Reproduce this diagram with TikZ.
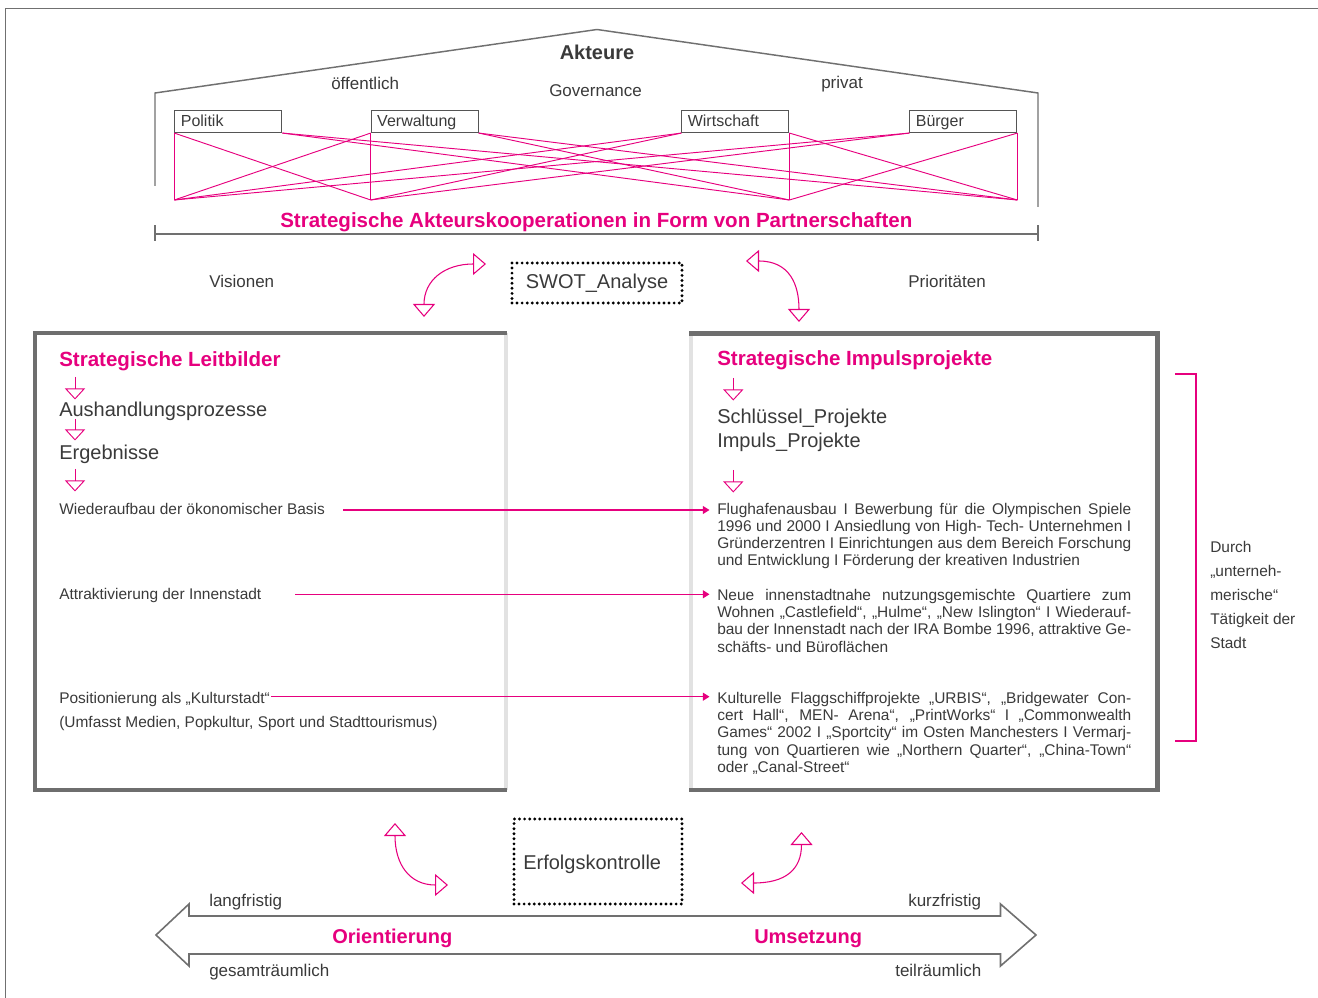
\documentclass[tikz,border=0pt]{standalone}
\usepackage{fontspec}
\setmainfont{Liberation Sans}
\usetikzlibrary{arrows.meta}
\definecolor{mag}{RGB}{230,0,126}
\definecolor{ink}{HTML}{3A3A3A}
\definecolor{framegray}{HTML}{707070}
\definecolor{boxdark}{HTML}{6E6E6E}
\definecolor{boxlight}{HTML}{E2E2E2}
\definecolor{actorline}{HTML}{555555}
% one justified line of a paragraph
\newcommand\justline[1]{\makebox[\linewidth][s]{#1}\par}

\begin{document}
\begin{tikzpicture}[x=0.75pt,y=-0.75pt,
  txt/.style={anchor=base west, inner sep=0pt, text=ink},
  small/.style={txt, font=\fontsize{11.6}{13}\selectfont},
  mid/.style={txt, font=\fontsize{12.75}{15}\selectfont},
  big/.style={txt, font=\fontsize{15}{18}\selectfont},
  title/.style={txt, text=mag, font=\fontsize{15.4}{18}\selectfont\bfseries},
  actor/.style={draw=actorline, line width=0.8pt, anchor=north west,
    inner xsep=4.5pt, inner ysep=0pt, text width=71.25pt, minimum height=16.5pt,
    text height=8pt, text depth=0pt,
    align=left, text=ink, font=\fontsize{12}{14}\selectfont},
  web/.style={mag, line width=0.7pt},
  house/.style={framegray, line width=1.1pt},
  dotbox/.style={draw=black, line width=2.4pt, dash pattern=on 0pt off 3.8pt,
    line cap=round, inner sep=0pt, text=ink, font=\fontsize{15}{18}\selectfont},
  link/.style={mag, line width=0.9pt, -{Triangle[length=5pt,width=6pt]}},
  stepdown/.style={mag, line width=0.7pt, -{Triangle[open,length=8.25pt,width=15pt]}},
  swing/.style={mag, line width=0.8pt,
    {Triangle[open,length=9.75pt,width=16.5pt]}-{Triangle[open,length=9.75pt,width=16.5pt]}},
  frameline/.style={framegray, line width=0.8pt}
]
\useasboundingbox (0,0) rectangle (1318,998);

% page frame
\draw[frameline] (5.5,998) -- (5.5,8.5) -- (1318,8.5);

% ---------- actors ----------
\draw[house] (155,186) -- (155,93) -- (597,29.5) -- (1038,93) -- (1038,207);
\node[txt, anchor=base, font=\fontsize{15}{18}\selectfont\bfseries] (akteure) at (597,60) {Akteure};
\node[mid] (oeff) at (331,90) {öffentlich};
\node[mid] (gov) at (549,97) {Governance};
\node[mid] (priv) at (821,89) {privat};

\node[actor] (pol) at (174.3,110) {Politik};
\node[actor] (ver) at (370.7,110) {Verwaltung};
\node[actor] (wir) at (681.3,110) {Wirtschaft};
\node[actor] (bur) at (909.3,110) {Bürger};

\coordinate (base) at (0,200);
\coordinate (pb) at (pol.south west |- base);
\coordinate (vb) at (ver.south west |- base);
\coordinate (wb) at (wir.south east |- base);
\coordinate (bb) at (bur.south east |- base);

% cooperation web
\draw[web] (pol.south west) -- (pb);
\draw[web] (ver.south west) -- (vb);
\draw[web] (wir.south east) -- (wb);
\draw[web] (bur.south east) -- (bb);
\draw[web] (pol.south west) -- (vb);
\draw[web] (ver.south west) -- (pb);
\draw[web] (wir.south east) -- (bb);
\draw[web] (bur.south east) -- (wb);
\draw[web] (pol.south east) -- (wb);
\draw[web] (pol.south east) -- (bb);
\draw[web] (ver.south east) -- (wb);
\draw[web] (ver.south east) -- (bb);
\draw[web] (pb) -- (wir.south west);
\draw[web] (pb) -- (bur.south west);
\draw[web] (vb) -- (wir.south west);
\draw[web] (vb) -- (bur.south west);

\node[title] (koop) at (280,228) {Strategische Akteurskooperationen in Form von Partnerschaften};
\draw[house] (155,234) -- (1038,234);
\draw[house] (155,225.5) -- (155,241.5);
\draw[house] (1038,225.5) -- (1038,241.5);

% ---------- analysis ----------
\node[mid] (vis) at (209,288) {Visionen};
\node[mid] (prio) at (908,288) {Prioritäten};
\node[dotbox, minimum width=127.5pt, minimum height=30pt] (swot) at (597,283) {SWOT\_Analyse};
\draw[swing] (424,317) .. controls (424,280) and (445,264) .. (486,264);
\draw[swing] (746,261) .. controls (790,261) and (799,285) .. (799,322);

% ---------- main boxes ----------
\draw[boxlight, line width=3pt] (505.5,333) -- (505.5,790);
\draw[boxdark, line width=3.2pt] (507,333) -- (35.3,333) -- (35.3,790) -- (507,790);
\draw[boxlight, line width=3pt] (691,333.5) -- (691,790);
\draw[boxdark, line width=3.2pt] (689,333.5) -- (1157.5,333.5) -- (1157.5,790) -- (689,790);

% left box
\node[title] (leit) at (59,367) {Strategische Leitbilder};
\coordinate (la1) at (75,377);   \coordinate (la2) at (75,399.5);
\node[big] (aush) at (59,417) {Aushandlungsprozesse};
\coordinate (lb1) at (75,419);   \coordinate (lb2) at (75,440.5);
\node[big] (erg) at (59,460) {Ergebnisse};
\coordinate (lc1) at (75,469);   \coordinate (lc2) at (75,491.5);
\draw[stepdown] (la1) -- (la2);
\draw[stepdown] (lb1) -- (lb2);
\draw[stepdown] (lc1) -- (lc2);

\node[small] (ziel1) at (59,514) {Wiederaufbau der ökonomischer Basis};
\node[small] (ziel2) at (59,599) {Attraktivierung der Innenstadt};
\node[small] (ziel3) at (59,703) {Positionierung als „Kulturstadt“};
\node[small] (ziel3b) at (59,727) {(Umfasst Medien, Popkultur, Sport und Stadttourismus)};

% right box
\node[title] (impuls) at (717,366) {Strategische Impulsprojekte};
\coordinate (ra1) at (733.3,378);  \coordinate (ra2) at (733.3,400.5);
\node[big] (schl) at (717,423.5) {Schlüssel\_Projekte};
\node[big] (imp) at (717,447.5) {Impuls\_Projekte};
\coordinate (rb1) at (733.3,470);  \coordinate (rb2) at (733.3,492.5);
\draw[stepdown] (ra1) -- (ra2);
\draw[stepdown] (rb1) -- (rb2);

\node[small] (proj1) at (717,514) {\parbox[t]{310.5pt}{%
  \justline{Flughafenausbau I Bewerbung für die Olympischen Spiele}
  \justline{1996 und 2000 I Ansiedlung von High- Tech- Unternehmen I}
  \justline{Gründerzentren I Einrichtungen aus dem Bereich Forschung}
  und Entwicklung I Förderung der kreativen Industrien}};
\node[small] (proj2) at (717,600) {\parbox[t]{310.5pt}{%
  \justline{Neue innenstadtnahe nutzungsgemischte Quartiere zum}
  \justline{Wohnen „Castlefield“, „Hulme“, „New Islington“ I Wiederauf-}
  \justline{bau der Innenstadt nach der IRA Bombe 1996, attraktive Ge-}
  schäfts- und Büroflächen}};
\node[small] (proj3) at (717,703) {\parbox[t]{310.5pt}{%
  \justline{Kulturelle Flaggschiffprojekte „URBIS“, „Bridgewater Con-}
  \justline{cert Hall“, MEN- Arena“, „PrintWorks“ I „Commonwealth}
  \justline{Games“ 2002 I „Sportcity“ im Osten Manchesters I Vermarj-}
  \justline{tung von Quartieren wie „Northern Quarter“, „China-Town“}
  oder „Canal-Street“}};

% goal -> project links
\coordinate (g1) at (343,510);  \coordinate (q1) at (709.5,510);
\coordinate (g2) at (295,594.3);  \coordinate (q2) at (709.5,594.3);
\coordinate (g3) at (271,696.7);  \coordinate (q3) at (709.5,696.7);
\draw[link] (g1) -- (q1);
\draw[link] (g2) -- (q2);
\draw[link] (g3) -- (q3);

% bracket on the right
\draw[mag, line width=1.5pt] (1175,374.3) -- (1195.5,374.3) -- (1195.5,740.7) -- (1175,740.7);
\node[small] (durch) at (1210,552.7) {\parbox[t]{100pt}{\fontsize{11.6}{18}\selectfont
  Durch\par „unterneh-\par merische“\par Tätigkeit der\par Stadt}};

% ---------- evaluation ----------
\node[dotbox, minimum width=126pt, minimum height=63.75pt] (erfolg) at (598,861.5) {};
\node[big] (erfolgtext) at (523,869.5) {Erfolgskontrolle};
\draw[swing] (395,823) .. controls (395,865) and (410,885) .. (448,885);
\draw[swing] (801.5,832) .. controls (801.5,870) and (785,883) .. (741,883);

% orientation / implementation axis
\draw[framegray, line width=1.2pt, line join=miter]
  (189,916) -- (1000.5,916) -- (1000.5,904) -- (1036,935) -- (1000.5,966) -- (1000.5,954)
  -- (189,954) -- (189,966) -- (156,935) -- (189,904) -- cycle;
\node[mid] (lang) at (209,906.7) {langfristig};
\node[mid] (kurz) at (908,906.7) {kurzfristig};
\node[mid] (gesamt) at (209,976.7) {gesamträumlich};
\node[mid] (teil) at (895,976.7) {teilräumlich};
\node[txt, text=mag, font=\fontsize{15}{18}\selectfont\bfseries] (orient) at (332,943) {Orientierung};
\node[txt, text=mag, font=\fontsize{15}{18}\selectfont\bfseries] (umsetz) at (754,943) {Umsetzung};
\end{tikzpicture}
\end{document}
